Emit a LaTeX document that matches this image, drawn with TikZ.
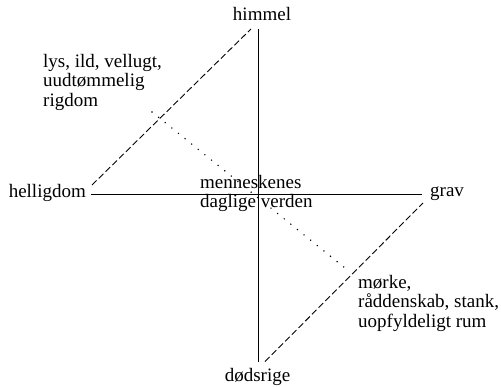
\documentclass[tikz,border=0pt]{standalone}
\usepackage{fontspec}
\setmainfont{Liberation Serif}
\usetikzlibrary{positioning}
\tikzset{
    %Define style for words
    ord/.style={
           inner sep=0pt,
           font=\fontsize{19}{19.5}\selectfont},
    tekst/.style={
           ord,
           align=left,
           anchor=north west},
    % Define line styles
    akse/.style={
           line width=0.9pt},
    skraa/.style={
           line width=0.9pt,
           dash pattern=on 6.5pt off 3pt},
    prik/.style={
           line width=1.6pt,
           line cap=round,
           dash pattern=on 0pt off 8.5pt}
}

\begin{document}
\begin{tikzpicture}[x=1pt,y=-1pt]
\useasboundingbox (0,0) rectangle (501,386);
% ends of the cross
\coordinate (top) at (258,29);
\coordinate (bund) at (258,361.5);
\coordinate (venstre) at (91,194);
\coordinate (hoejre) at (422,194);
% ends of the slanted lines
\coordinate (ov1) at (92,185);
\coordinate (ov2) at (251,29);
\coordinate (ne1) at (265,361.5);
\coordinate (ne2) at (423,203);
\coordinate (p1) at (152,112);
\coordinate (p2) at (350,272);
\node[ord, anchor=base](himmel) at (262,20.7){himmel};
\node[ord, anchor=base east](helligdom) at (86,197){helligdom};
\node[ord, anchor=base west](grav) at (430,196.7){grav};
\node[ord, anchor=base](doedsrige) at (257.5,381.7){dødsrige};
\node[tekst](lys) at (43,53.7){lys, ild, vellugt,\\uudtømmelig\\rigdom};
\node[tekst](moerke) at (358,275){mørke,\\råddenskab, stank,\\uopfyldeligt rum};
\node[tekst](verden) at (200,175){menneskenes\\daglige verden};
\draw[akse] (top) -- (bund);
\draw[akse] (venstre) -- (hoejre);
\draw[skraa] (ov1) -- (ov2);
\draw[skraa] (ne1) -- (ne2);
\draw[prik] (p1) -- (p2);
\end{tikzpicture}
\end{document}
